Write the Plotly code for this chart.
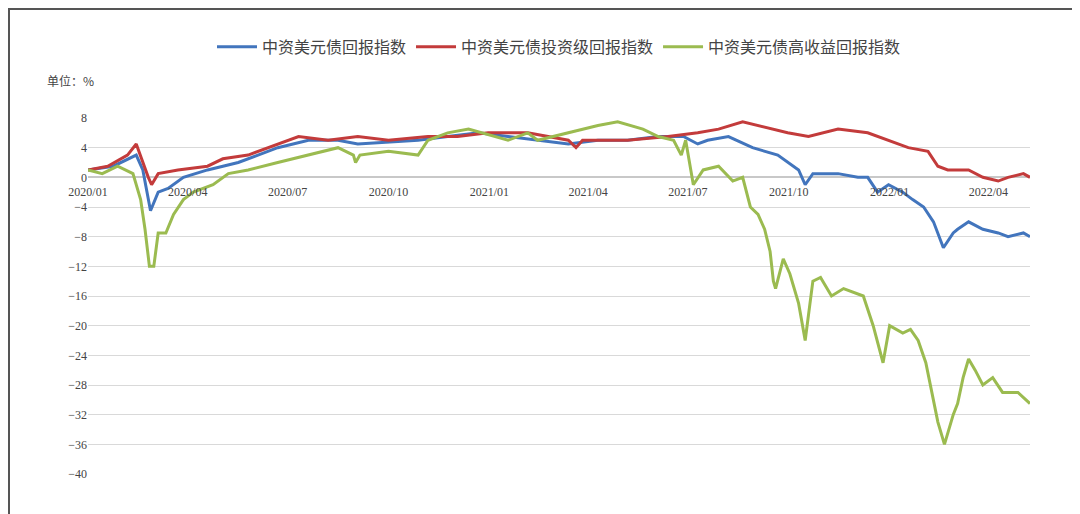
import plotly.graph_objects as go

# 中资美元债回报指数
all_dates = ['2020-01-01', '2020-01-24', '2020-02-14', '2020-02-20', '2020-02-27', '2020-03-05', '2020-03-14',
             '2020-03-28', '2020-04-19', '2020-05-17', '2020-06-04', '2020-06-22', '2020-07-20', '2020-08-16',
             '2020-09-03', '2020-10-01', '2020-10-28', '2020-11-24', '2020-12-22', '2021-01-18', '2021-02-14',
             '2021-03-14', '2021-04-10', '2021-05-07', '2021-06-04', '2021-06-27', '2021-07-10', '2021-07-19',
             '2021-08-07', '2021-08-29', '2021-09-21', '2021-10-10', '2021-10-16', '2021-10-23', '2021-11-15',
             '2021-12-03', '2021-12-12', '2021-12-21', '2021-12-31', '2022-01-13', '2022-01-22', '2022-02-01',
             '2022-02-10', '2022-02-19', '2022-02-28', '2022-03-04', '2022-03-14', '2022-03-27', '2022-04-10',
             '2022-04-19', '2022-05-03', '2022-05-09']
all_vals = [1, 1.5, 3, 1, -4.5, -2, -1.5, 0, 1, 2, 3, 4, 5, 5, 4.5, 4.8, 5, 5.5, 6, 5.5, 5, 4.5, 5, 5, 5.5,
            5.5, 4.5, 5, 5.5, 4, 3, 1, -1, 0.5, 0.5, 0, 0, -2, -1, -2, -3, -4, -6, -9.5, -7.5, -7, -6, -7,
            -7.5, -8, -7.5, -8]

# 中资美元债投资级回报指数
ig_dates = ['2020-01-01', '2020-01-19', '2020-02-06', '2020-02-14', '2020-02-25', '2020-02-28', '2020-03-05',
            '2020-03-23', '2020-04-19', '2020-05-03', '2020-05-26', '2020-06-13', '2020-07-11', '2020-08-07',
            '2020-09-03', '2020-10-01', '2020-11-06', '2020-12-03', '2020-12-31', '2021-02-05', '2021-03-14',
            '2021-03-21', '2021-03-27', '2021-05-07', '2021-06-13', '2021-07-10', '2021-07-29', '2021-08-20',
            '2021-09-03', '2021-09-30', '2021-10-19', '2021-11-15', '2021-12-12', '2021-12-31', '2022-01-18',
            '2022-02-05', '2022-02-14', '2022-02-23', '2022-03-14', '2022-03-27', '2022-04-10', '2022-04-19',
            '2022-05-03', '2022-05-09']
ig_vals = [1, 1.5, 3, 4.5, 0, -1, 0.5, 1, 1.5, 2.5, 3, 4, 5.5, 5, 5.5, 5, 5.5, 5.5, 6, 6, 5, 4, 5, 5, 5.5,
           6, 6.5, 7.5, 7, 6, 5.5, 6.5, 6, 5, 4, 3.5, 1.5, 1, 1, 0, -0.5, 0, 0.5, 0]

# 中资美元债高收益回报指数
hy_dates = ['2020-01-01', '2020-01-14', '2020-01-28', '2020-02-11', '2020-02-18', '2020-02-22', '2020-02-26',
            '2020-03-01', '2020-03-05', '2020-03-12', '2020-03-19', '2020-03-28', '2020-04-06', '2020-04-24',
            '2020-05-08', '2020-05-26', '2020-06-22', '2020-07-20', '2020-08-16', '2020-08-30', '2020-09-01',
            '2020-09-05', '2020-10-01', '2020-10-28', '2020-11-06', '2020-11-24', '2020-12-13', '2021-01-18',
            '2021-02-05', '2021-02-14', '2021-03-14', '2021-04-10', '2021-04-28', '2021-05-21', '2021-06-04',
            '2021-06-18', '2021-06-25', '2021-06-29', '2021-07-06', '2021-07-15', '2021-07-29', '2021-08-11',
            '2021-08-20', '2021-08-27', '2021-09-03', '2021-09-09', '2021-09-14', '2021-09-17', '2021-09-19',
            '2021-09-26', '2021-10-02', '2021-10-10', '2021-10-16', '2021-10-23', '2021-10-30', '2021-11-09',
            '2021-11-20', '2021-12-08', '2021-12-17', '2021-12-26', '2022-01-01', '2022-01-13', '2022-01-20',
            '2022-01-27', '2022-02-03', '2022-02-07', '2022-02-14', '2022-02-20', '2022-02-28', '2022-03-04',
            '2022-03-09', '2022-03-14', '2022-03-20', '2022-03-27', '2022-04-05', '2022-04-14', '2022-04-28',
            '2022-05-09']
hy_vals = [1, 0.5, 1.5, 0.5, -3, -7, -12, -12, -7.5, -7.5, -5, -3, -2, -1, 0.5, 1, 2, 3, 4, 3, 2, 3, 3.5, 3,
           5, 6, 6.5, 5, 6, 5, 6, 7, 7.5, 6.5, 5.5, 5, 3, 5, -1, 1, 1.5, -0.5, 0, -4, -5, -7, -10, -14, -15,
           -11, -13, -17, -22, -14, -13.5, -16, -15, -16, -20, -25, -20, -21, -20.5, -22, -25, -28, -33, -36,
           -32, -30.5, -27, -24.5, -26, -28, -27, -29, -29, -30.5]

tick_vals = ['2020-01-01', '2020-04-01', '2020-07-01', '2020-10-01', '2021-01-01', '2021-04-01',
             '2021-07-01', '2021-10-01', '2022-01-01', '2022-04-01']
tick_text = ['2020/01', '2020/04', '2020/07', '2020/10', '2021/01', '2021/04',
             '2021/07', '2021/10', '2022/01', '2022/04']

cjk = 'Noto Sans CJK SC'
serif = 'Liberation Serif'

fig = go.Figure()
fig.add_trace(go.Scatter(x=all_dates, y=all_vals, mode='lines', name='中资美元债回报指数',
                         line=dict(color='#4275bd', width=3)))
fig.add_trace(go.Scatter(x=ig_dates, y=ig_vals, mode='lines', name='中资美元债投资级回报指数',
                         line=dict(color='#c33b3b', width=3)))
fig.add_trace(go.Scatter(x=hy_dates, y=hy_vals, mode='lines', name='中资美元债高收益回报指数',
                         line=dict(color='#9bbb50', width=3)))

fig.update_layout(
    width=1080, height=514,
    margin=dict(l=80, r=58, t=110, b=48, autoexpand=False),
    plot_bgcolor='white', paper_bgcolor='white',
    legend=dict(orientation='h', x=0.5, xanchor='center', y=1.20, yanchor='middle',
                font=dict(family=cjk, size=16, color='#444444'), itemwidth=40),
    xaxis=dict(range=['2020-01-01', '2022-05-09'], tickvals=tick_vals, ticktext=tick_text,
               anchor='free', position=(40 / 48), showgrid=False, showline=False,
               ticks='outside', ticklen=3, tickcolor='rgba(0,0,0,0)',
               tickfont=dict(family=serif, size=12, color='#444444')),
    yaxis=dict(range=[-40, 8], dtick=4, showgrid=True, gridcolor='#d9d9d9', zeroline=True,
               zerolinecolor='#c8c8c8', ticks='', tickfont=dict(family=serif, size=12, color='#444444')),
    annotations=[dict(text='单位：%', x=-18 / 942, xref='paper', y=(466 - 72) / 356, yref='paper',
                      showarrow=False, xanchor='center', yanchor='middle',
                      font=dict(family=cjk, size=12, color='#444444'))],
    shapes=[dict(type='rect', xref='paper', yref='paper', x0=-79 / 942, x1=1 + 57 / 942,
                 y0=-47 / 356, y1=1 + 109 / 356, line=dict(color='#555555', width=2))],
)

fig.write_html("out.html")
